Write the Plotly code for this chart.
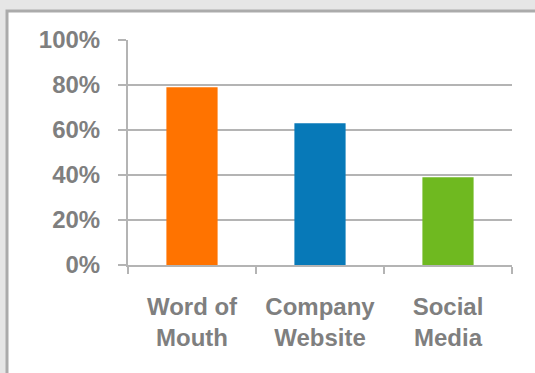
import plotly.graph_objects as go

categories = ["Word of<br>Mouth", "Company<br>Website", "Social<br>Media"]
values = [0.79, 0.63, 0.39]
colors = ["#FF7300", "#0779B8", "#6FB920"]
y_ticks = [0, 0.2, 0.4, 0.6, 0.8, 1.0]
y_labels = ["0%", "20%", "40%", "60%", "80%", "100%"]

W, H = 535, 373
fig = go.Figure(go.Bar(x=categories, y=values, marker=dict(color=colors, line=dict(width=0)), width=0.4))

tf = dict(family="Liberation Sans, Arial, sans-serif", size=24, color="#7F7F7F", weight="bold")

fig.update_layout(
    width=W, height=H,
    margin=dict(l=128, r=23, t=40, b=108, pad=0),
    paper_bgcolor="#E6E6E6",
    plot_bgcolor="rgba(0,0,0,0)",
    showlegend=False,
    bargap=0.6,
    shapes=[dict(type="rect", xref="paper", yref="paper",
                 x0=-(128 - 7) / 384, x1=(W + 10 - 128) / 384,
                 y0=-(373 + 10 - 265) / 225, y1=(265 - 11) / 225,
                 fillcolor="white", line=dict(color="#ABABAB", width=3), layer="below")],
)
fig.update_yaxes(
    range=[0, 1.0001], tickvals=y_ticks, ticktext=y_labels,
    showgrid=True, gridcolor="#B4B4B4", gridwidth=2,
    showline=True, linecolor="#B4B4B4", linewidth=2,
    ticks="outside", ticklen=8, tickcolor="#B4B4B4", tickwidth=2,
    ticklabelstandoff=13, zeroline=False,
    tickfont=tf, fixedrange=True,
)
fig.update_xaxes(
    showline=True, linecolor="#B4B4B4", linewidth=2,
    ticks="outside", ticklen=7, tickcolor="#B4B4B4", tickwidth=2, tickson="boundaries",
    ticklabelstandoff=19,
    tickfont=tf, fixedrange=True,
)
fig.write_html("out.html", config={"displayModeBar": False})
